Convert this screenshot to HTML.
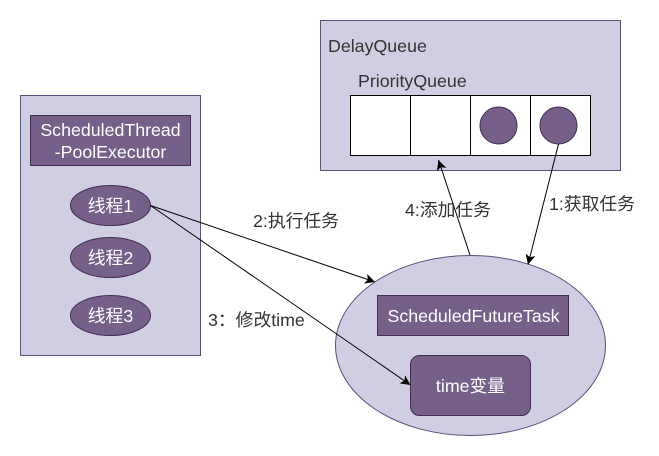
<!DOCTYPE html>
<html>
<head>
<meta charset="utf-8">
<style>
html,body{margin:0;padding:0;background:#fff;width:659px;height:456px;overflow:hidden}
svg{display:block}
text{font-family:"Liberation Sans","Noto Sans CJK SC","WenQuanYi Zen Hei",sans-serif;font-size:17.8px}
.w{fill:#fff;text-anchor:middle}
.d{fill:#333}
</style>
</head>
<body>
<svg width="659" height="456" viewBox="0 0 659 456" xmlns="http://www.w3.org/2000/svg">
<defs>
<marker id="a" markerUnits="userSpaceOnUse" markerWidth="12" markerHeight="12" refX="10" refY="5" orient="auto">
<path d="M0 0L10 5L0 10L2.5 5Z" fill="#000"/>
</marker>
</defs>
<g stroke="#56517e" fill="#d0cee2">
<rect x="20.5" y="95.5" width="180" height="260"/>
<rect x="320.5" y="20.5" width="300" height="150"/>
<ellipse cx="470.5" cy="345.5" rx="135" ry="90"/>
</g>
<g stroke="#000" fill="#fff">
<rect x="350.5" y="95.5" width="60" height="60"/>
<rect x="410.5" y="95.5" width="60" height="60"/>
<rect x="470.5" y="95.5" width="60" height="60"/>
<rect x="530.5" y="95.5" width="60" height="60"/>
</g>
<g stroke="#432d57" fill="#76608a">
<circle cx="498.5" cy="125.5" r="18.5"/>
<circle cx="558.5" cy="125.5" r="18.5"/>
<rect x="30.5" y="115.5" width="160" height="50"/>
<ellipse cx="110.5" cy="205.5" rx="40" ry="20"/>
<ellipse cx="110.5" cy="257.5" rx="40" ry="20"/>
<ellipse cx="110.5" cy="315.5" rx="40" ry="20"/>
<rect x="377.5" y="295.5" width="191" height="40"/>
<rect x="410.5" y="355.5" width="120" height="60" rx="9" ry="9"/>
</g>
<g stroke="#000" fill="none">
<line x1="150.5" y1="205.5" x2="375" y2="282" marker-end="url(#a)"/>
<line x1="150.5" y1="205.5" x2="410.5" y2="385" marker-end="url(#a)"/>
<line x1="470" y1="255" x2="438.5" y2="160" marker-end="url(#a)"/>
<line x1="558.5" y1="144" x2="528" y2="264.5" marker-end="url(#a)"/>
</g>
<text class="w" x="110.5" y="136">ScheduledThread</text>
<text class="w" x="110.5" y="158">-PoolExecutor</text>
<text class="w" x="110.5" y="212">线程1</text>
<text class="w" x="110.5" y="264">线程2</text>
<text class="w" x="110.5" y="322">线程3</text>
<text class="w" x="473.5" y="322">ScheduledFutureTask</text>
<text class="w" x="470.5" y="392">time变量</text>
<text class="d" x="328" y="52">DelayQueue</text>
<text class="d" x="358" y="87">PriorityQueue</text>
<text class="d" x="253" y="227">2:执行任务</text>
<text class="d" x="208" y="326">3：修改time</text>
<text class="d" x="405" y="216">4:添加任务</text>
<text class="d" x="549" y="210">1:获取任务</text>
</svg>
</body>
</html>
